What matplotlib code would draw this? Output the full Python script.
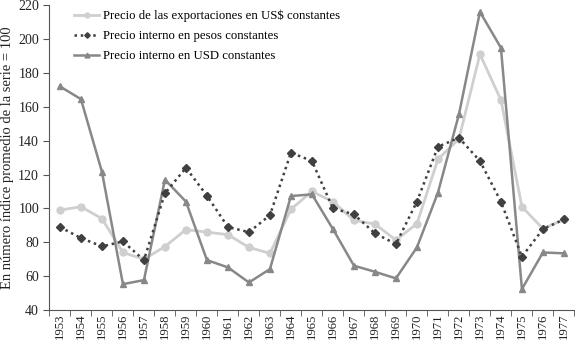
import matplotlib
matplotlib.use("Agg")
import matplotlib.pyplot as plt
import numpy as np

years = [str(y) for y in range(1953, 1978)]
export_usd = [99, 101, 94, 74, 70, 77.5, 87.5, 86, 84.5, 77, 73.5, 99.5, 110,
              104, 93, 90.8, 81.3, 91, 129, 141, 191, 164, 101, 88, 93.5]
interno_pesos = [89, 82.5, 77.6, 80.5, 69.5, 108.9, 124, 107.5, 89, 86, 96, 132.9, 128,
                 100, 96.5, 85.3, 79, 104, 136.4, 141.7, 128, 104, 71.5, 87.8, 93.5]
interno_usd = [172, 164.5, 121.6, 55.3, 57.7, 117, 104, 69.5, 65.2, 56.3, 64.2, 107.3, 108.3,
               87.8, 66.2, 62.6, 58.7, 77, 109.3, 155.5, 216, 194.8, 52.4, 74, 73.5]
labels = ["Precio de las exportaciones en US$ constantes",
          "Precio interno en pesos constantes",
          "Precio interno en USD constantes"]
ylabel = "En número índice promedio de la serie = 100"

plt.rcParams['font.family'] = ['Liberation Serif', 'DejaVu Serif']

fig = plt.figure(figsize=(5.75, 3.4), dpi=100)
ax = fig.add_axes([0.086, 0.088, 0.913, 0.897])
x = np.arange(len(years))

ax.plot(x, export_usd, color='#cfcfcf', lw=2, marker='o', ms=5, label=labels[0], zorder=2)
ax.plot(x, interno_pesos, color='#404040', lw=1.8, ls=(0, (1, 1.5)), marker='D', ms=4.0,
        label=labels[1], zorder=4)
ax.plot(x, interno_usd, color='#888888', lw=1.8, marker='^', ms=5, label=labels[2], zorder=3)

ax.set_xlim(-0.5, len(years) - 0.5)
ax.set_ylim(40, 220)
ax.set_yticks(range(40, 221, 20))
ax.set_xticks(x)
ax.set_xticklabels(years, rotation=90)
ax.set_xticks(np.arange(-0.5, len(years), 1), minor=True)
ax.tick_params(axis='x', which='major', length=0, pad=2.5, labelsize=9.2, colors='#222222')
ax.tick_params(axis='x', which='minor', length=4, color='#555555')
ax.tick_params(axis='y', length=4, color='#555555', labelsize=10, labelcolor='#222222')
for s in ['top', 'right']:
    ax.spines[s].set_visible(False)
for s in ['left', 'bottom']:
    ax.spines[s].set_color('#555555')
ax.set_ylabel(ylabel, fontsize=10.5, color='#222222', labelpad=3)

leg = ax.legend(loc='upper left', bbox_to_anchor=(0.032, 1.01), frameon=False,
                fontsize=9.2, handlelength=2.0, handletextpad=0.25, labelspacing=0.62,
                borderaxespad=0.2, markerscale=0.7)

fig.savefig("out.png", dpi=100)
